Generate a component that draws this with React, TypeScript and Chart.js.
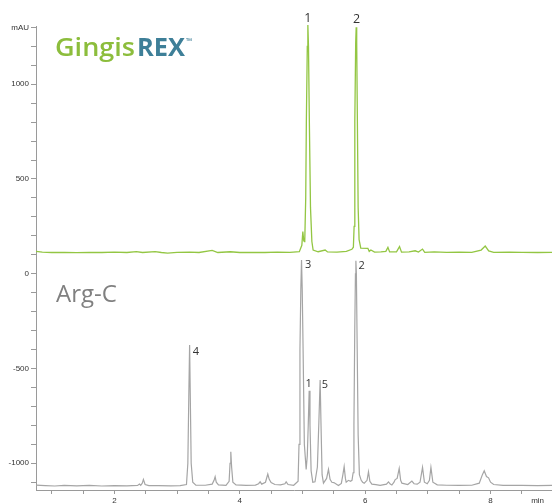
import React, { useEffect, useRef } from 'react';
import { Chart, registerables } from 'chart.js';

Chart.register(...registerables);

// ---- Data (retention time in min, absorbance in mAU) ----
const gingisTimes = [
  0.75, 0.85, 1.0, 1.2, 1.4, 1.6, 1.8, 2.0, 2.2, 2.35, 2.45, 2.65, 2.75, 2.85, 3.0, 3.2, 3.35, 3.56, 3.65, 3.85,
  4.0, 4.2, 4.4, 4.6, 4.8, 4.95, 4.99, 5.006, 5.02, 5.03, 5.037, 5.052, 5.062, 5.077, 5.086, 5.096, 5.11, 5.128, 5.15, 5.17,
  5.25, 5.362, 5.4, 5.55, 5.7, 5.788, 5.812, 5.824, 5.835, 5.849, 5.857, 5.865, 5.876, 5.888, 5.903, 5.93,
  6.043, 6.065, 6.091, 6.15, 6.25, 6.33, 6.363, 6.39, 6.5, 6.548, 6.58, 6.7, 6.798, 6.85, 6.915, 6.95,
  7.1, 7.3, 7.5, 7.7, 7.85, 7.915, 7.97, 8.05, 8.3, 8.5, 8.75, 8.98,
];
const gingisValues = [
  118, 114, 112, 113, 111, 113, 112, 114, 112, 117, 112, 117, 112, 109, 113, 114, 112, 123, 112, 116,
  112, 113, 112, 114, 113, 116, 150, 222, 175, 169, 180, 400, 800, 1200, 1312, 1200, 800, 350, 170, 125,
  116, 125, 115, 114, 118, 129, 140, 250, 800, 1220, 1300, 1220, 800, 350, 180, 135,
  134, 118, 125, 114, 115, 118, 139, 115, 116, 143, 114, 115, 121, 114, 130, 113,
  115, 113, 114, 113, 125, 146, 120, 113, 114, 113, 112, 113,
];

const argcTimes = [
  0.75, 0.9, 1.05, 1.2, 1.4, 1.6, 1.8, 2.0, 2.2, 2.37, 2.4, 2.42, 2.445, 2.463, 2.49, 2.55, 2.7, 2.9, 3.05, 3.15,
  3.172, 3.187, 3.2, 3.211, 3.225, 3.25, 3.3, 3.45, 3.56, 3.59, 3.607, 3.625, 3.66, 3.78, 3.83, 3.845, 3.857, 3.87, 3.89, 3.94,
  4.1, 4.25, 4.3, 4.325, 4.35, 4.41, 4.447, 4.47, 4.5, 4.56, 4.65, 4.72, 4.74, 4.77, 4.86, 4.93, 4.945, 4.96, 4.974, 4.985,
  4.996, 5.01, 5.03, 5.059, 5.077, 5.092, 5.107, 5.12, 5.138, 5.165, 5.2, 5.238, 5.262, 5.282, 5.296, 5.313, 5.335, 5.385, 5.415, 5.44,
  5.469, 5.5, 5.574, 5.62, 5.645, 5.665, 5.685, 5.697, 5.734, 5.765, 5.79, 5.808, 5.821, 5.834, 5.845, 5.852, 5.86, 5.873, 5.888, 5.908,
  5.937, 5.96, 5.985, 6.03, 6.053, 6.075, 6.107, 6.17, 6.239, 6.34, 6.372, 6.4, 6.426, 6.46, 6.479, 6.51, 6.543, 6.566, 6.586, 6.68,
  6.745, 6.78, 6.83, 6.875, 6.915, 6.945, 6.99, 7.025, 7.049, 7.08, 7.15, 7.3, 7.5, 7.7, 7.82, 7.87, 7.899, 7.935, 7.968, 8.0,
  8.05, 8.2, 8.5, 8.75, 8.98,
];
const argcValues = [
  -1115, -1118, -1120, -1117, -1119, -1117, -1120, -1118, -1119, -1117, -1110, -1116, -1105, -1085, -1112, -1118, -1118, -1119, -1118, -1112,
  -1000, -650, -376, -650, -1000, -1100, -1115, -1116, -1110, -1090, -1071, -1100, -1114, -1116, -1095, -1000, -939, -1020, -1100, -1114,
  -1117, -1115, -1108, -1098, -1110, -1100, -1057, -1085, -1102, -1112, -1114, -1108, -1098, -1112, -1116, -1095, -900, -400, -80, 72,
  -80, -400, -900, -1032, -960, -800, -617, -800, -1040, -1100, -1098, -1020, -780, -561, -800, -1060, -1105, -1080, -1032, -1085,
  -1100, -1102, -1117, -1106, -1060, -1018, -1080, -1100, -1090, -1095, -1090, -1050, -800, -300, 0, 69, 0, -400, -850, -1060,
  -1090, -1100, -1105, -1090, -1045, -1095, -1110, -1113, -1117, -1110, -1098, -1110, -1115, -1100, -1086, -1080, -1027, -1090, -1105, -1112,
  -1094, -1108, -1110, -1100, -1022, -1100, -1108, -1090, -1022, -1100, -1114, -1116, -1117, -1116, -1105, -1060, -1040, -1070, -1077, -1100,
  -1112, -1117, -1117, -1118, -1117,
];

const gingisPeakLabels = ['1', '2'];
const gingisPeakTimes = [5.086, 5.857];
const argcPeakLabels = ['3', '2', '4', '1', '5'];
const argcPeakTimes = [4.985, 5.852, 3.2, 5.107, 5.282];

const yLabelledTicks = [-1000, -500, 0, 500, 1000];
const yUnitLabel = 'mAU';
const xLabelledTicks = [2, 4, 6, 8];
const xUnitLabel = 'min';
const traceNames = ['GingisREX', 'Arg-C'];

// ---- Styles / placements (kept apart from data) ----
const GREEN = '#93c643';
const GREY = '#a5a5a5';
const AXIS = '#9a9a9a';
const gingisPlacement = [
  { align: 'center', dx: 0, dy: -3.5 },
  { align: 'center', dx: 0.5, dy: -4.5 },
];
const argcPlacement = [
  { align: 'left', dx: 3.5, dy: 8.3 },
  { align: 'left', dx: 2.5, dy: 8.6 },
  { align: 'left', dx: 3.2, dy: 10 },
  { align: 'center', dx: -0.5, dy: -3.7 },
  { align: 'left', dx: 1.7, dy: 8 },
];

function nearestIndex(times: number[], t: number) {
  let best = 0;
  for (let i = 1; i < times.length; i++) {
    if (Math.abs(times[i] - t) < Math.abs(times[best] - t)) best = i;
  }
  return best;
}

function drawFitted(ctx: CanvasRenderingContext2D, text: string, x: number, y: number, width: number, font: string, color: string) {
  ctx.save();
  ctx.font = font;
  ctx.fillStyle = color;
  ctx.textAlign = 'left';
  ctx.textBaseline = 'alphabetic';
  const w = ctx.measureText(text).width;
  ctx.translate(x, y);
  ctx.scale(width / w, 1);
  ctx.fillText(text, 0, 0);
  ctx.restore();
}

const overlayPlugin = {
  id: 'overlay',
  afterDatasetsDraw(chart: any) {
    const ctx: CanvasRenderingContext2D = chart.ctx;
    const xs = chart.scales.x;
    const ys = chart.scales.y;
    ctx.save();
    // Logo
    drawFitted(ctx, 'Gingis', 55, 56, 80, '600 25px "Open Sans"', '#8cbd3c');
    drawFitted(ctx, 'REX', 137, 56, 48, 'bold 25px "Open Sans"', '#3e7f98');
    ctx.font = 'bold 8px "Open Sans"';
    ctx.fillStyle = '#3e7f98';
    ctx.textAlign = 'left';
    ctx.textBaseline = 'alphabetic';
    ctx.fillText('\u2122', 186, 44);
    // Arg-C name
    ctx.font = '24px "Open Sans"';
    ctx.fillStyle = '#808080';
    ctx.fillText(traceNames[1], 56, 302);

    const drawPeaks = (labels: string[], times: number[], tData: number[], vData: number[], place: any[], size: number) => {
      ctx.font = `${size}px "Open Sans"`;
      ctx.fillStyle = '#333333';
      ctx.textBaseline = 'alphabetic';
      labels.forEach((lab, i) => {
        const idx = nearestIndex(tData, times[i]);
        const px = xs.getPixelForValue(tData[idx]);
        const py = ys.getPixelForValue(vData[idx]);
        const p = place[i];
        ctx.textAlign = p.align;
        ctx.fillText(lab, px + p.dx, py + p.dy);
      });
    };
    drawPeaks(gingisPeakLabels, gingisPeakTimes, gingisTimes, gingisValues, gingisPlacement, 12.5);
    drawPeaks(argcPeakLabels, argcPeakTimes, argcTimes, argcValues, argcPlacement, 11);
    ctx.restore();
  },
};

export default function App() {
  const ref = useRef<HTMLCanvasElement | null>(null);
  useEffect(() => {
    if (!ref.current) return;
    const yTicks: number[] = [];
    for (let v = -1100; v <= 1300; v += 100) yTicks.push(v);
    const xTicks: number[] = [];
    for (let i = 2; i <= 17; i++) xTicks.push(i / 2);
    xTicks.push(8.75);

    const chart = new Chart(ref.current, {
      type: 'line',
      data: {
        datasets: [
          {
            label: traceNames[0],
            data: gingisTimes.map((t, i) => ({ x: t, y: gingisValues[i] })),
            borderColor: GREEN,
            borderWidth: 1.3,
            pointRadius: 0,
            tension: 0,
            fill: false,
            clip: false as any,
          },
          {
            label: traceNames[1],
            data: argcTimes.map((t, i) => ({ x: t, y: argcValues[i] })),
            borderColor: GREY,
            borderWidth: 1.2,
            pointRadius: 0,
            tension: 0,
            fill: false,
            clip: false as any,
          },
        ],
      },
      options: {
        responsive: false,
        animation: false,
        devicePixelRatio: 1,
        layout: { padding: { top: 26, left: 0, right: 0, bottom: 0 } },
        plugins: { legend: { display: false }, tooltip: { enabled: false } },
        scales: {
          x: {
            type: 'linear',
            min: 0.75,
            max: 8.98,
            afterBuildTicks: (s: any) => {
              s.ticks = xTicks.map((v) => ({ value: v }));
            },
            afterFit: (s: any) => {
              s.height = 13;
            },
            ticks: {
              autoSkip: false,
              maxRotation: 0,
              padding: 2,
              color: '#333',
              font: { size: 8, family: '"Liberation Sans", Arial, sans-serif' },
              callback: (v: any) => (v === 8.75 ? xUnitLabel : xLabelledTicks.includes(v) ? String(v) : ''),
            },
            grid: {
              drawOnChartArea: false,
              drawTicks: true,
              tickLength: 4,
              tickColor: (c: any) => (c.tick && c.tick.value === 8.75 ? 'rgba(0,0,0,0)' : AXIS),
            },
            border: { color: AXIS, width: 1 },
          },
          y: {
            type: 'linear',
            min: -1141,
            max: 1307,
            afterBuildTicks: (s: any) => {
              s.ticks = yTicks.map((v) => ({ value: v }));
            },
            afterFit: (s: any) => {
              s.width = 36;
            },
            ticks: {
              autoSkip: false,
              padding: 2,
              color: '#333',
              font: { size: 8, family: '"Liberation Sans", Arial, sans-serif' },
              callback: (v: any) => (v === 1300 ? yUnitLabel : yLabelledTicks.includes(v) ? String(v) : ''),
            },
            grid: { drawOnChartArea: false, drawTicks: true, tickLength: 5, tickColor: AXIS },
            border: { color: AXIS, width: 1 },
          },
        },
      },
      plugins: [overlayPlugin],
    } as any);
    return () => chart.destroy();
  }, []);

  return (
    <div style={{ position: 'absolute', left: 0, top: 0, width: 552, height: 503, overflow: 'hidden', background: '#fff' }}>
      <canvas ref={ref} width={552} height={503} style={{ display: 'block' }} />
    </div>
  );
}
